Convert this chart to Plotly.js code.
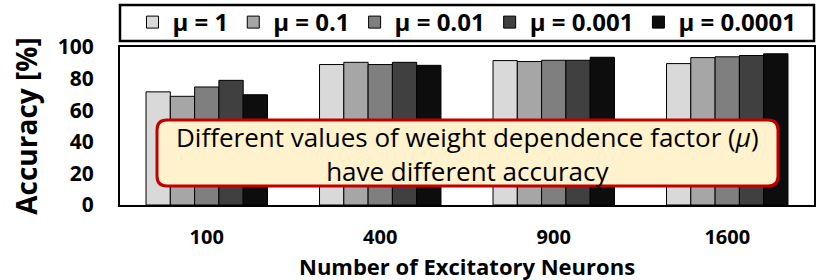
<!DOCTYPE html>
<html>
<head>
<meta charset="utf-8">
<script src="https://cdn.plot.ly/plotly-3.0.1.min.js"></script>
<style>html,body{margin:0;padding:0;background:#fff;}#chart{width:830px;height:280px;}</style>
</head>
<body>
<div id="chart"></div>
<script>
// ---- data ----
const neurons = ['100', '400', '900', '1600'];
const seriesNames = ['\u03bc = 1', '\u03bc = 0.1', '\u03bc = 0.01', '\u03bc = 0.001', '\u03bc = 0.0001'];
const acc_mu_1      = [71.6, 88.9, 91.4, 89.5];
const acc_mu_0_1    = [68.8, 90.3, 90.8, 93.3];
const acc_mu_0_01   = [74.7, 88.9, 91.6, 93.8];
const acc_mu_0_001  = [78.9, 90.3, 91.6, 94.6];
const acc_mu_0_0001 = [69.8, 88.4, 93.5, 95.7];
const yTicks = [0, 20, 40, 60, 80, 100];
const noteText = 'Different values of weight dependence factor (<i>\u03bc</i>)<br>have different accuracy';
const xTitle = 'Number of Excitatory Neurons';
const yTitle = 'Accuracy [%]';

// ---- styles ----
const colors = ['#d9d9d9', '#a6a6a6', '#7f7f7f', '#404040', '#0d0d0d'];
const allSeries = [acc_mu_1, acc_mu_0_1, acc_mu_0_01, acc_mu_0_001, acc_mu_0_0001];
const FONT = 'Open Sans, Liberation Sans, Arial, sans-serif';

const traces = allSeries.map((vals, i) => ({
  type: 'bar',
  name: seriesNames[i],
  x: neurons,
  y: vals,
  marker: {color: colors[i], line: {color: '#000', width: 1}},
  hoverinfo: 'skip'
}));

// rounded rectangle path in paper coords
function roundRect(x0, y0, x1, y1, rx, ry) {
  return `M ${x0 + rx} ${y1} L ${x1 - rx} ${y1} Q ${x1} ${y1} ${x1} ${y1 - ry} ` +
         `L ${x1} ${y0 + ry} Q ${x1} ${y0} ${x1 - rx} ${y0} ` +
         `L ${x0 + rx} ${y0} Q ${x0} ${y0} ${x0} ${y0 + ry} ` +
         `L ${x0} ${y1 - ry} Q ${x0} ${y1} ${x0 + rx} ${y1} Z`;
}

const plotW = 694, plotH = 158;
const py = (pix) => (205 - pix) / plotH;   // pixel row -> paper y
const layout = {
  width: 830, height: 280,
  margin: {l: 120, r: 16, t: 47, b: 75, autoexpand: false},
  paper_bgcolor: '#fff', plot_bgcolor: '#fff',
  font: {family: FONT, color: '#000'},
  barmode: 'group',
  bargap: 0.3,
  bargroupgap: 0,
  showlegend: true,
  legend: {
    orientation: 'h', x: 0.5, xanchor: 'center', y: py(22.5), yanchor: 'middle',
    font: {family: FONT, size: 24, weight: 'bold'},
    bgcolor: 'rgba(0,0,0,0)', borderwidth: 0, traceorder: 'normal'
  },
  xaxis: {
    type: 'category',
    showline: true, linecolor: '#000', linewidth: 2, mirror: true,
    showgrid: false, ticks: '', zeroline: false,
    tickfont: {family: FONT, size: 20, weight: 'bold'},
    ticklabelstandoff: 13
  },
  yaxis: {
    range: [0, 100], tickvals: yTicks,
    showline: true, linecolor: '#000', linewidth: 2, mirror: true,
    showgrid: false, ticks: '', zeroline: false,
    tickfont: {family: FONT, size: 21, weight: 'bold'},
    ticklabelstandoff: 20,
    title: {text: yTitle, font: {family: FONT, size: 28, weight: 'bold'}, standoff: 12}
  },
  shapes: [
    {type: 'rect', xref: 'paper', yref: 'paper', x0: 0, x1: 1,
     y0: py(41), y1: py(5),
     line: {color: '#000', width: 2.5}, fillcolor: 'rgba(0,0,0,0)', layer: 'above'},
    {type: 'path', xref: 'paper', yref: 'paper', layer: 'above',
     path: roundRect((157 - 120) / plotW, py(186), (778 - 120) / plotW, py(120), 10 / plotW, 10 / plotH),
     fillcolor: '#fff2cc', line: {color: '#c00000', width: 3}}
  ],
  annotations: [
    {xref: 'paper', yref: 'paper', x: 0.5007, y: py(153.5),
     xanchor: 'center', yanchor: 'middle', showarrow: false,
     text: noteText, align: 'center',
     font: {family: FONT, size: 26, color: '#000'}},
    {xref: 'paper', yref: 'paper', x: (467 - 120) / plotW, y: py(265.7),
     xanchor: 'center', yanchor: 'middle', showarrow: false,
     text: xTitle, font: {family: FONT, size: 22, weight: 'bold', color: '#000'}}
  ]
};

Plotly.newPlot('chart', traces, layout, {displayModeBar: false, staticPlot: true});
</script>
</body>
</html>
